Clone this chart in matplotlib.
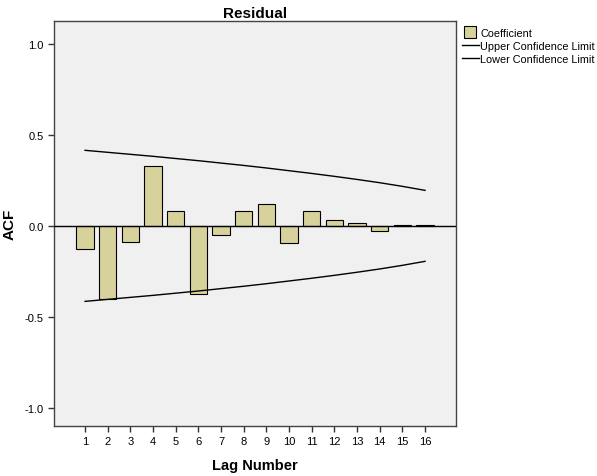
import matplotlib.pyplot as plt
from matplotlib.lines import Line2D

plt.rcParams['font.family'] = ['Liberation Sans', 'DejaVu Sans']

lags = list(range(1, 17))
coef = [-0.126, -0.40, -0.09, 0.328, 0.08, -0.374, -0.05, 0.08,
        0.12, -0.095, 0.08, 0.032, 0.013, -0.03, 0.004, 0.002]
upper = [0.415, 0.404, 0.393, 0.382, 0.370, 0.358, 0.345, 0.332,
         0.318, 0.303, 0.288, 0.272, 0.255, 0.237, 0.217, 0.195]
lower = [-u for u in upper]
yticks = [1.0, 0.5, 0.0, -0.5, -1.0]

fig = plt.figure(figsize=(5.97, 4.77), dpi=100)
ax = fig.add_axes([0.0905, 0.1048, 0.6735, 0.8492])
ax.set_facecolor('#f0f0f0')

ax.bar(lags, coef, width=0.76, color='#d7d29b', edgecolor='black', linewidth=0.8, zorder=2)
ax.plot(lags, upper, color='black', linewidth=1.0, zorder=3)
ax.plot(lags, lower, color='black', linewidth=1.0, zorder=3)
ax.axhline(0, color='black', linewidth=1.0, zorder=3)

ax.set_xlim(-0.37, 17.37)
ax.set_ylim(-1.1, 1.126)
ax.set_xticks(lags)
ax.set_yticks(yticks)
ax.set_yticklabels(['%.1f' % v for v in yticks])
ax.tick_params(axis='both', direction='out', length=4, width=1, labelsize=8, colors='#333333')
ax.tick_params(axis='both', labelcolor='black')
for s in ax.spines.values():
    s.set_color('#444444')
    s.set_linewidth(1.0)

ax.set_xlabel('Lag Number', fontsize=10.5, fontweight='bold', labelpad=8)
ax.set_ylabel('ACF', fontsize=11, fontweight='bold', labelpad=6)
ax.set_title('Residual', fontsize=11, fontweight='bold', pad=3)

handles = [Line2D([0], [0], marker='s', linestyle='none', markersize=8,
                  markerfacecolor='#d7d29b', markeredgecolor='black', markeredgewidth=0.8),
           Line2D([0], [0], color='black', linewidth=1.0),
           Line2D([0], [0], color='black', linewidth=1.0)]
labels = ['Coefficient', 'Upper Confidence Limit', 'Lower Confidence Limit']
fig.legend(handles, labels, loc='upper left', bbox_to_anchor=(0.766, 0.949),
           frameon=False, fontsize=7.8, handlelength=1.6, handleheight=0.9,
           handletextpad=0.1, labelspacing=0.25, borderaxespad=0)

fig.savefig('out.png', dpi=100)
